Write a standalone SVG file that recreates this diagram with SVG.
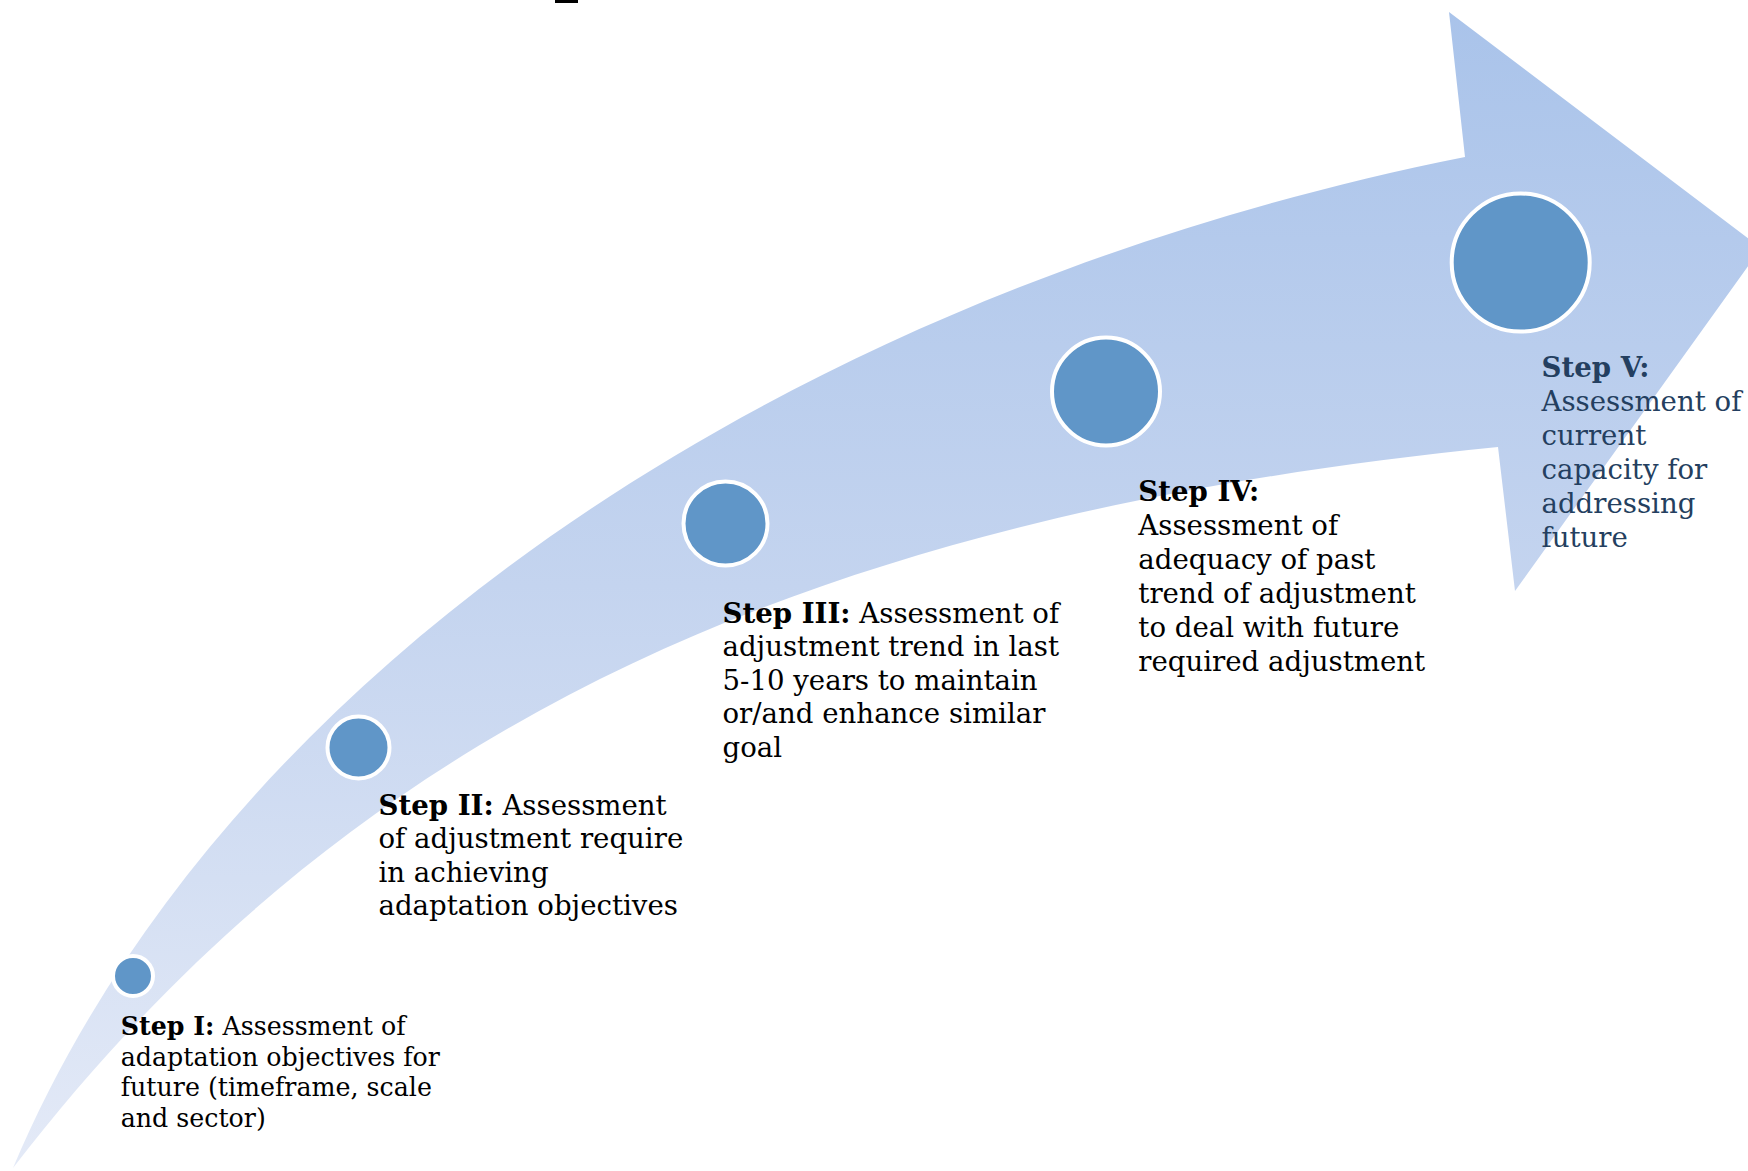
<svg xmlns="http://www.w3.org/2000/svg" width="1748" height="1171" viewBox="0 0 1748 1171">
  <defs>
    <linearGradient id="arrowGrad" gradientUnits="userSpaceOnUse" x1="0" y1="0" x2="0" y2="1171">
      <stop offset="0" stop-color="#a9c3ea"/>
      <stop offset="0.5" stop-color="#c4d4ef"/>
      <stop offset="1" stop-color="#e4eaf7"/>
    </linearGradient>
    <style>
      .dot { fill: #6096c8; stroke: #ffffff; stroke-width: 4; }
      .lbl { font-family: "DejaVu Serif", "Liberation Serif", serif; font-size: 27.6px; fill: #000000; }
      .lbl-s { font-size: 25.3px; }
      .lbl-v { fill: #243f60; }
      .b { font-weight: bold; }
    </style>
  </defs>
  <rect width="1748" height="1171" fill="#ffffff"/>
  <rect x="555" y="0" width="23" height="3" fill="#000000"/>

  <g id="connectors">
    <path id="arrow" fill="url(#arrowGrad)" d="
      M 13 1168
      C 222 672, 788.2 292.3, 1465 157
      L 1449 12
      L 1761 248
      L 1515 591
      L 1498 447
      C 792.4 517.6, 346.9 733.9, 13 1168
      Z"/>
  </g>

  <g id="step1">
    <circle class="dot" cx="133" cy="976" r="20"/>
    <text class="lbl lbl-s" x="120.7" y="1035"><tspan class="b">Step I:</tspan> Assessment of</text>
    <text class="lbl lbl-s" x="120.7" y="1065.7">adaptation objectives for</text>
    <text class="lbl lbl-s" x="120.7" y="1096.4">future (timeframe, scale</text>
    <text class="lbl lbl-s" x="120.7" y="1127">and sector)</text>
  </g>

  <g id="step2">
    <circle class="dot" cx="358.5" cy="747.5" r="31"/>
    <text class="lbl" x="378.5" y="815"><tspan class="b">Step II:</tspan> Assessment</text>
    <text class="lbl" x="378.5" y="848.4">of adjustment require</text>
    <text class="lbl" x="378.5" y="881.8">in achieving</text>
    <text class="lbl" x="378.5" y="915.2">adaptation objectives</text>
  </g>

  <g id="step3">
    <circle class="dot" cx="725.5" cy="523.5" r="42"/>
    <text class="lbl" x="722.5" y="622.5"><tspan class="b">Step III:</tspan> Assessment of</text>
    <text class="lbl" x="722.5" y="656">adjustment trend in last</text>
    <text class="lbl" x="722.5" y="689.5">5-10 years to maintain</text>
    <text class="lbl" x="722.5" y="723">or/and enhance similar</text>
    <text class="lbl" x="722.5" y="756.5">goal</text>
  </g>

  <g id="step4">
    <circle class="dot" cx="1106" cy="391.5" r="54"/>
    <text class="lbl" x="1138.3" y="501"><tspan class="b">Step IV:</tspan></text>
    <text class="lbl" x="1138.3" y="535">Assessment of</text>
    <text class="lbl" x="1138.3" y="569">adequacy of past</text>
    <text class="lbl" x="1138.3" y="603">trend of adjustment</text>
    <text class="lbl" x="1138.3" y="637">to deal with future</text>
    <text class="lbl" x="1138.3" y="671">required adjustment</text>
  </g>

  <g id="step5">
    <circle class="dot" cx="1520.7" cy="262.5" r="69"/>
    <text class="lbl lbl-v" x="1541.5" y="377"><tspan class="b">Step V:</tspan></text>
    <text class="lbl lbl-v" x="1541.5" y="411">Assessment of</text>
    <text class="lbl lbl-v" x="1541.5" y="445">current</text>
    <text class="lbl lbl-v" x="1541.5" y="479">capacity for</text>
    <text class="lbl lbl-v" x="1541.5" y="513">addressing</text>
    <text class="lbl lbl-v" x="1541.5" y="547">future</text>
  </g>
</svg>
